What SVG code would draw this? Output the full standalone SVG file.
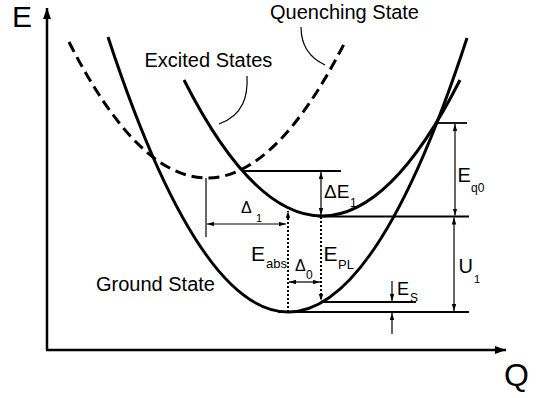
<svg xmlns="http://www.w3.org/2000/svg" width="538" height="398" viewBox="0 0 538 398">
<defs>
<style>
text{font-family:"Liberation Sans",Arial,sans-serif;fill:#000}
.curve{fill:none;stroke:#000;stroke-width:3}
.dash{stroke-dasharray:11 6}
.axis{fill:none;stroke:#000;stroke-width:2.5}
.lvl{fill:none;stroke:#000;stroke-width:1.8}
.thin{fill:none;stroke:#000;stroke-width:1.2}
.dot{fill:none;stroke:#000;stroke-width:2;stroke-dasharray:2 2}
.arr{marker-end:url(#ah)}
.arr2{marker-start:url(#ah);marker-end:url(#ah)}
</style>
<marker id="ah" markerUnits="userSpaceOnUse" markerWidth="8" markerHeight="6" refX="7" refY="2.2" orient="auto-start-reverse"><path d="M0,0 L7,2.2 L0,4.4 z" fill="#000"/></marker>
<marker id="axh" markerUnits="userSpaceOnUse" markerWidth="12" markerHeight="9" refX="11" refY="4" orient="auto"><path d="M0,0 L11,4 L0,8 z" fill="#000"/></marker>
</defs>
<g id="axes">
<line class="axis" x1="47" y1="350" x2="47" y2="8" marker-end="url(#axh)"/>
<line class="axis" x1="46" y1="350" x2="506" y2="350" marker-end="url(#axh)"/>
<text x="12" y="27" font-size="30">E</text>
<text x="504" y="386" font-size="32">Q</text>
</g>
<g id="ground-state">
<path class="curve" d="M108,37 Q288.5,586.5 467,38"/>
<text x="96" y="291" font-size="20">Ground State</text>
</g>
<g id="excited-state">
<path class="curve" d="M184,80 Q322,352 460,80"/>
<text x="144.5" y="67" font-size="20">Excited States</text>
</g>
<g id="quenching-state">
<path class="curve dash" d="M69,42 Q207,314 345,42"/>
<text x="270" y="19" font-size="20">Quenching State</text>
</g>
<g id="levels">
<line class="lvl" x1="243" y1="171" x2="341" y2="171"/>
<line class="lvl" x1="318" y1="216.5" x2="469" y2="216.5"/>
<line class="lvl" x1="437" y1="123" x2="467" y2="123"/>
<line class="lvl" x1="278" y1="312" x2="469" y2="312"/>
<line class="lvl" x1="321" y1="302" x2="416" y2="302" stroke-width="2.2"/>
<line class="thin" x1="206" y1="178" x2="206" y2="237"/>
</g>
<g id="labels">
<text x="324" y="198" font-size="19">ΔE</text>
<text x="350" y="207" font-size="12">1</text>
<text x="241" y="213" font-size="16">Δ</text>
<text x="256" y="222" font-size="11">1</text>
<text x="251" y="261" font-size="21">E</text>
<text x="266" y="268" font-size="13">abs</text>
<text x="295" y="271" font-size="16">Δ</text>
<text x="306" y="279" font-size="12">0</text>
<text x="323.5" y="261" font-size="21">E</text>
<text x="338" y="269" font-size="13">PL</text>
<text x="397" y="295" font-size="18">E</text>
<text x="410" y="302" font-size="12">S</text>
<text x="457.5" y="182" font-size="20">E</text>
<text x="471" y="192" font-size="12">q0</text>
<text x="458.5" y="273" font-size="20">U</text>
<text x="474" y="283" font-size="11">1</text>
</g>
<g id="connectors">
<path class="thin" d="M247,76 C248,95 244,115 219,124"/>
<path class="thin" d="M301,27 C301,45 310,58 325,65"/>
<line class="thin arr2" x1="321" y1="172" x2="321" y2="215"/>
<line class="thin arr2" x1="207" y1="224" x2="286" y2="224"/>
<line class="dot arr" x1="288" y1="312" x2="288" y2="211"/>
<line class="dot arr" x1="321" y1="217" x2="321" y2="301"/>
<line class="thin arr2" x1="289" y1="282" x2="320" y2="282"/>
<line class="thin arr" x1="392" y1="281" x2="392" y2="301"/>
<line class="thin arr" x1="392" y1="334" x2="392" y2="313"/>
<line class="thin arr2" x1="455" y1="124" x2="455" y2="215.5"/>
<line class="thin arr2" x1="454" y1="217.5" x2="454" y2="311"/>
</g>
</svg>
